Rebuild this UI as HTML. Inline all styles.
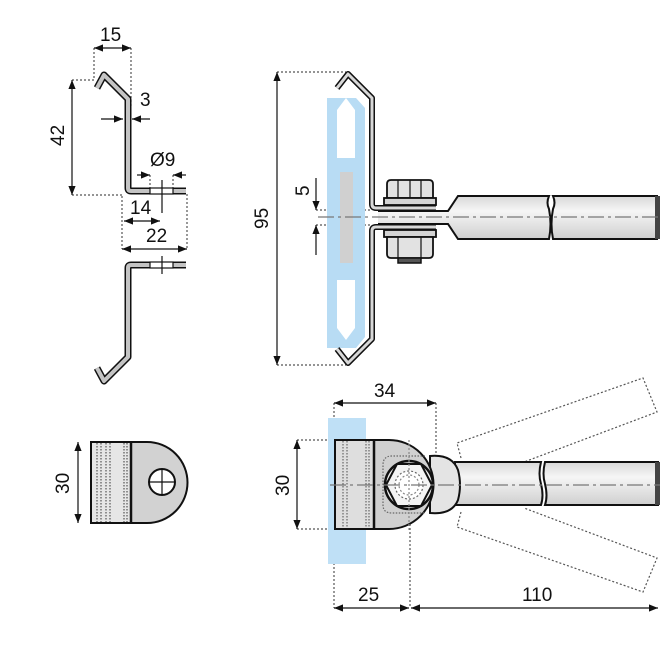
<!DOCTYPE html>
<html><head><meta charset="utf-8"><style>
html,body{margin:0;padding:0;background:#fff;}
svg{display:block;}
text{font-family:"Liberation Sans",sans-serif;font-size:19px;fill:#111;}
</style></head><body>
<svg width="660" height="656" viewBox="0 0 660 656" xmlns="http://www.w3.org/2000/svg">
<defs>
<marker id="a" viewBox="0 0 10 10" refX="10" refY="5" markerWidth="9" markerHeight="9" orient="auto-start-reverse" markerUnits="userSpaceOnUse"><path d="M0,1 L10,5 L0,9 Z" fill="#111"/></marker>
<linearGradient id="rod" x1="0" y1="0" x2="0" y2="1"><stop offset="0" stop-color="#d8d8d8"/><stop offset="0.35" stop-color="#f6f6f6"/><stop offset="1" stop-color="#cfcfcf"/></linearGradient>
</defs>
<g fill="none" stroke="#111" stroke-width="1.2">
<g stroke-dasharray="2,2" stroke="#555">
<line x1="94" y1="48" x2="94" y2="80"/><line x1="131" y1="48" x2="131" y2="108"/>
<line x1="72" y1="80" x2="96" y2="80"/><line x1="72" y1="195" x2="124" y2="195"/>
<line x1="122" y1="196" x2="122" y2="249"/><line x1="187" y1="194" x2="187" y2="249"/>
<line x1="150" y1="175" x2="150" y2="194"/><line x1="173" y1="175" x2="173" y2="194"/>
</g>
<line x1="94" y1="48" x2="131" y2="48" marker-start="url(#a)" marker-end="url(#a)"/>
<line x1="72" y1="80" x2="72" y2="195" marker-start="url(#a)" marker-end="url(#a)"/>
<line x1="101" y1="119" x2="123" y2="119" marker-end="url(#a)"/><line x1="150" y1="119" x2="132" y2="119" marker-end="url(#a)"/>
<line x1="137" y1="175" x2="150" y2="175" marker-end="url(#a)"/><line x1="186" y1="175" x2="173" y2="175" marker-end="url(#a)"/>
<line x1="124" y1="221" x2="160" y2="221" marker-start="url(#a)" marker-end="url(#a)"/>
<line x1="122" y1="249" x2="187" y2="249" marker-start="url(#a)" marker-end="url(#a)"/>
<path d="M97,88 L104,75 L128,99 L128,188 Q128,191 131,191 L186,191" stroke="#111" stroke-width="7" stroke-linejoin="round"/>
<path d="M97,88 L104,75 L128,99 L128,188 Q128,191 131,191 L186,191" stroke="#c4c4c4" stroke-width="4" stroke-linejoin="round"/>
<rect x="150" y="188" width="23" height="6" fill="#fff" stroke="#111"/>
<line x1="162" y1="180" x2="162" y2="213"/>
<path d="M97,368 L104,381 L128,357 L128,268 Q128,265 131,265 L186,265" stroke="#111" stroke-width="7" stroke-linejoin="round"/>
<path d="M97,368 L104,381 L128,357 L128,268 Q128,265 131,265 L186,265" stroke="#c4c4c4" stroke-width="4" stroke-linejoin="round"/>
<rect x="150" y="262" width="23" height="6" fill="#fff" stroke="#111"/>
<line x1="162" y1="256" x2="162" y2="274"/>

<line x1="78" y1="442" x2="78" y2="523" marker-start="url(#a)" marker-end="url(#a)"/>
<path d="M91,442 H147 A40.5,40.5 0 0 1 147,523 H91 Z" fill="#d2d2d2" stroke-width="2"/>
<rect x="91" y="442" width="40" height="81" fill="#e6e6e6" stroke-width="2"/>
<g stroke-dasharray="1.5,1.5" stroke="#555"><line x1="97" y1="443" x2="97" y2="522"/><line x1="101" y1="443" x2="101" y2="522"/><line x1="106" y1="443" x2="106" y2="522"/><line x1="110" y1="443" x2="110" y2="522"/><line x1="124" y1="443" x2="124" y2="522"/><line x1="127" y1="443" x2="127" y2="522"/></g>
<line x1="131" y1="442" x2="131" y2="523" stroke-width="2.5"/>
<circle cx="162" cy="482" r="13" fill="#fff" stroke-width="2"/>
<line x1="149" y1="482" x2="175" y2="482"/><line x1="162" y1="469" x2="162" y2="495"/>

<g stroke-dasharray="2,2" stroke="#555">
<line x1="277" y1="72" x2="346" y2="72"/><line x1="277" y1="365" x2="346" y2="365"/>
<line x1="316" y1="210" x2="372" y2="210"/><line x1="316" y1="225" x2="372" y2="225"/>
</g>
<line x1="277" y1="72" x2="277" y2="365" marker-start="url(#a)" marker-end="url(#a)"/>
<line x1="316" y1="178" x2="316" y2="210" marker-end="url(#a)"/><line x1="316" y1="255" x2="316" y2="225" marker-end="url(#a)"/>
<path d="M327,98 L356,98 L365,108 L365,337 L356,348 L327,348 Z" fill="#b8dcf4" stroke="none"/>
<path d="M337,158 V110 L346,98 L355,110 V158 Z" fill="#fff" stroke="none"/>
<path d="M337,280 V328 L346,340 L355,328 V280 Z" fill="#fff" stroke="none"/>
<rect x="340" y="172" width="13" height="91" fill="#d0d0d0" stroke="none"/>
<path d="M337,88 L348,74 L372,98 L372,204 Q372,208 376,208 L436,208" stroke="#111" stroke-width="6" stroke-linejoin="round"/>
<path d="M337,88 L348,74 L372,98 L372,204 Q372,208 376,208 L436,208" stroke="#d8d8d8" stroke-width="3" stroke-linejoin="round"/>
<path d="M337,349 L348,363 L372,339 L372,231 Q372,227 376,227 L436,227" stroke="#111" stroke-width="6" stroke-linejoin="round"/>
<path d="M337,349 L348,363 L372,339 L372,231 Q372,227 376,227 L436,227" stroke="#d8d8d8" stroke-width="3" stroke-linejoin="round"/>
<path d="M387,190 L387,184 Q387,180 391,180 L429,180 Q433,180 433,184 L433,198 L387,198 Z" fill="#e2e2e2" stroke-width="1.8"/>
<line x1="398" y1="180" x2="398" y2="198"/><line x1="421" y1="180" x2="421" y2="198"/><line x1="410" y1="180" x2="410" y2="198"/>
<rect x="384" y="198" width="52" height="7" fill="#d4d4d4" stroke-width="1.8"/>
<rect x="384" y="230" width="52" height="7" fill="#d4d4d4" stroke-width="1.8"/>
<path d="M387,237 L433,237 L433,254 Q433,258 429,258 L391,258 Q387,258 387,254 Z" fill="#e2e2e2" stroke-width="1.8"/>
<line x1="398" y1="237" x2="398" y2="258"/><line x1="421" y1="237" x2="421" y2="258"/>
<rect x="398" y="258" width="23" height="5" fill="#555" stroke-width="1.5"/>
<path d="M378,211 L448,211 L458,196 L549,196 Q546,203 549,209 Q552,224 549,239 L458,239 L448,224 L378,224" fill="url(#rod)" stroke-width="2"/>
<path d="M553,196 L657,196 L657,239 L553,239 Q550,224 553,209 Q556,203 553,196 Z" fill="url(#rod)" stroke-width="2"/>
<rect x="655" y="196" width="5" height="43" fill="#444" stroke="none"/>
<line x1="318" y1="217" x2="660" y2="217" stroke="#777" stroke-dasharray="16,4,3,4"/>

<g stroke-dasharray="2,2" stroke="#555">
<line x1="334" y1="403" x2="334" y2="608"/><line x1="436" y1="403" x2="436" y2="460"/>
<line x1="410" y1="520" x2="410" y2="608"/>
<line x1="297" y1="440" x2="336" y2="440"/><line x1="297" y1="529" x2="336" y2="529"/>
<path d="M461,458 L457,443 L643,378 L657,412 L524,462"/>
<path d="M461,512 L457,527 L643,592 L657,558 L524,508"/>
</g>
<line x1="334" y1="403" x2="436" y2="403" marker-start="url(#a)" marker-end="url(#a)"/>
<line x1="297" y1="440" x2="297" y2="529" marker-start="url(#a)" marker-end="url(#a)"/>
<line x1="334" y1="608" x2="409" y2="608" marker-start="url(#a)" marker-end="url(#a)"/>
<line x1="411" y1="608" x2="658" y2="608" marker-start="url(#a)" marker-end="url(#a)"/>
<rect x="328" y="418" width="38" height="146" fill="#bfe0f6" stroke="none"/>
<path d="M455,462 L541,462 Q538,474 541,484 Q544,496 541,505 L455,505 Z" fill="url(#rod)" stroke-width="2"/>
<path d="M545,462 L658,462 L658,505 L545,505 Q548,496 545,484 Q542,474 545,462 Z" fill="url(#rod)" stroke-width="2"/>
<rect x="655" y="462" width="5" height="43" fill="#444" stroke="none"/>
<path d="M430,456 Q452,454 458,470 Q462,485 458,500 Q452,515 430,513 Z" fill="#e4e4e4" stroke-width="2"/>
<path d="M335,440 H389 A44.5,44.5 0 0 1 389,529 H335 Z" fill="#d0d0d0" stroke-width="2"/>
<rect x="335" y="440" width="39" height="89" fill="#dedede" stroke-width="2"/>
<g stroke-dasharray="1.5,1.5" stroke="#666"><line x1="343" y1="441" x2="343" y2="528"/><line x1="347" y1="441" x2="347" y2="528"/><line x1="366" y1="441" x2="366" y2="528"/><line x1="369" y1="441" x2="369" y2="528"/>
<path d="M425,456 H392 Q383,456 383,465 V505 Q383,513 392,513 H425"/></g>
<line x1="374" y1="440" x2="374" y2="529" stroke-width="2.5"/>
<circle cx="409" cy="485" r="24" fill="#f0f0f0" stroke-width="2.5"/>
<polygon points="397,464 421,464 432,485 421,506 397,506 386,485" fill="#f4f4f4" stroke-width="2"/>
<circle cx="409" cy="485" r="14" fill="#fff" stroke="#666" stroke-dasharray="2,2"/>
<circle cx="409" cy="485" r="10" stroke="#888" stroke-dasharray="2,2"/>
<line x1="330" y1="485" x2="660" y2="485" stroke="#777" stroke-dasharray="16,4,3,4"/>
<line x1="409" y1="440" x2="409" y2="530" stroke="#888" stroke-dasharray="2,2"/>
</g>
<g>
<text x="100" y="41">15</text>
<text x="140" y="106">3</text>
<text x="150" y="166">Ø9</text>
<text x="130" y="214">14</text>
<text x="146" y="242">22</text>
<text x="0" y="0" transform="translate(64,146) rotate(-90)">42</text>
<text x="0" y="0" transform="translate(69,494) rotate(-90)">30</text>
<text x="0" y="0" transform="translate(268,229) rotate(-90)">95</text>
<text x="0" y="0" transform="translate(309,196) rotate(-90)">5</text>
<text x="374" y="397">34</text>
<text x="0" y="0" transform="translate(289,496) rotate(-90)">30</text>
<text x="358" y="601">25</text>
<text x="522" y="601">110</text>
</g>
</svg>
</body></html>
